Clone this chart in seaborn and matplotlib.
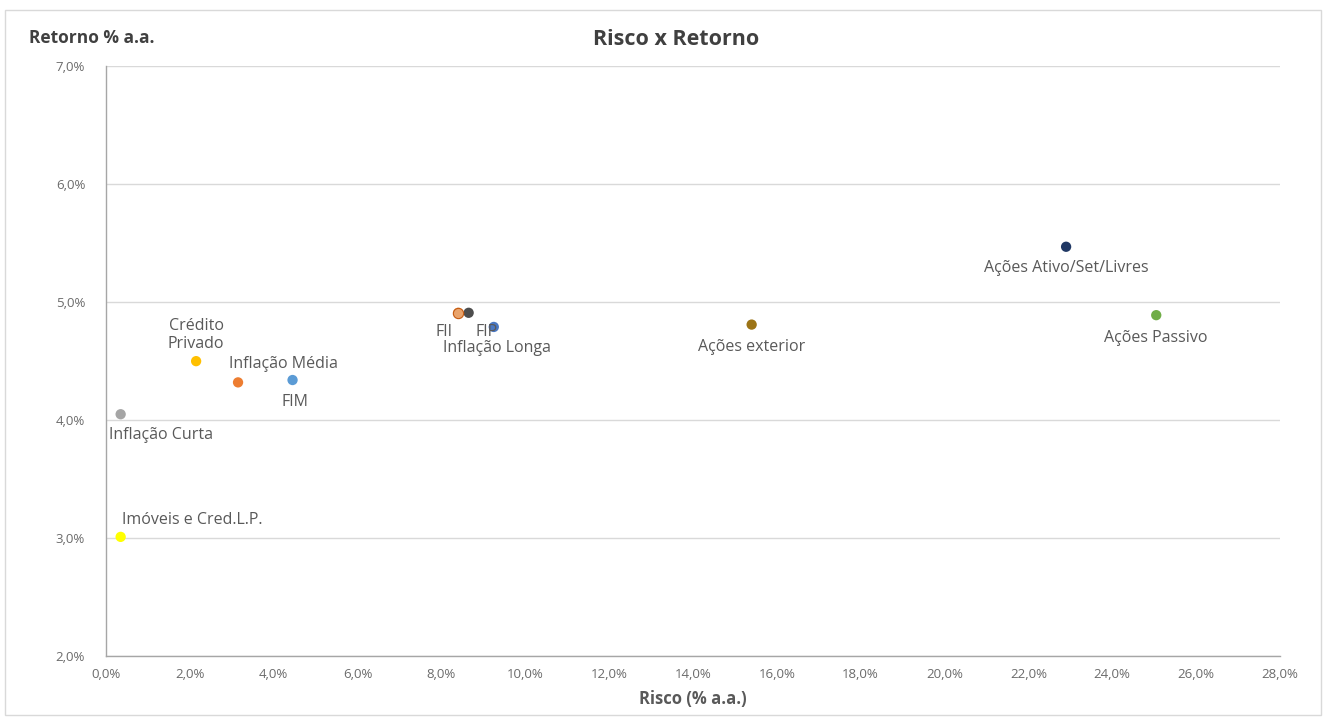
import matplotlib
matplotlib.use("Agg")
import matplotlib.pyplot as plt
from matplotlib.ticker import FuncFormatter, MultipleLocator
from matplotlib.patches import Rectangle
import seaborn as sns
import pandas as pd

# Asset classes with annual risk (volatility) and expected return, in %
categorias = [
    "Ações Ativo/Set/Livres", "Ações Passivo", "Ações exterior", "FII", "FIP",
    "Inflação Longa", "Crédito\nPrivado", "Inflação Média", "FIM",
    "Inflação Curta", "Imóveis e Cred.L.P.",
]
risco = [22.9, 25.05, 15.4, 8.4, 8.65, 9.25, 2.15, 3.15, 4.45, 0.35, 0.35]
retorno = [5.47, 4.89, 4.81, 4.91, 4.91, 4.79, 4.50, 4.32, 4.34, 4.05, 3.01]

cores = [
    "#203864", "#70ad47", "#9c7416", "#e9a36b", "#4d4d4d",
    "#4a78c2", "#ffc000", "#ed7d31", "#5b9bd5", "#a5a5a5", "#ffff00",
]
# label offsets in pixels relative to each point
desloc = [
    (0, -21), (0, -23), (0, -22), (-14, -19), (18, -19),
    (3, -21), (0, 26), (45, 18), (2, -22), (40, -21), (72, 17),
]

df = pd.DataFrame({"categoria": categorias, "risco": risco, "retorno": retorno})

sns.set_theme(style="white")
plt.rcParams["font.family"] = ["Open Sans", "DejaVu Sans"]

fig = plt.figure(figsize=(13.28, 7.2), dpi=100)
ax = fig.add_axes([0.0798, 0.0889, 0.884, 0.819])

sns.scatterplot(
    data=df, x="risco", y="retorno", hue="categoria",
    palette=dict(zip(categorias, cores)), s=55, edgecolor="none",
    legend=False, ax=ax, zorder=3,
)
# FII marker has a darker rim
i_fii = categorias.index("FII")
ax.scatter([risco[i_fii]], [retorno[i_fii]], s=55, facecolor=cores[i_fii],
           edgecolor="#c55a11", linewidth=0.8, zorder=4)

for nome, x, y, (dx, dy) in zip(categorias, risco, retorno, desloc):
    ax.annotate(nome, (x, y), xytext=(dx, dy), textcoords="offset pixels",
                ha="center", va="center", fontsize=11.5, color="#595959",
                linespacing=1.2, zorder=5)

ax.set_xlim(0, 28)
ax.set_ylim(2, 7)
ax.xaxis.set_major_locator(MultipleLocator(2))
ax.yaxis.set_major_locator(MultipleLocator(1))
fmt = FuncFormatter(lambda v, _: f"{v:.1f}%".replace(".", ","))
ax.xaxis.set_major_formatter(fmt)
ax.yaxis.set_major_formatter(fmt)
ax.tick_params(axis="both", labelsize=9.5, colors="#6b6b6b", length=0)
ax.tick_params(axis="x", pad=9)
ax.tick_params(axis="y", pad=15)

ax.grid(axis="y", color="#d9d9d9", linewidth=1)
ax.grid(axis="x", visible=False)
for side in ["top", "right"]:
    ax.spines[side].set_visible(False)
for side in ["left", "bottom"]:
    ax.spines[side].set_color("#a6a6a6")
    ax.spines[side].set_linewidth(1)

ax.set_xlabel("")
ax.set_ylabel("")
fig.text(0.522, 0.029, "Risco (% a.a.)", ha="center", va="center",
         fontsize=12, fontweight="bold", color="#595959")
fig.text(0.022, 0.947, "Retorno % a.a.", ha="left", va="center",
         fontsize=12.5, fontweight="bold", color="#404040")
fig.text(0.509, 0.945, "Risco x Retorno", ha="center", va="center",
         fontsize=15.5, fontweight="bold", color="#404040")

# thin border around the whole chart
fig.patches.append(Rectangle((0.004, 0.007), 0.991, 0.979, transform=fig.transFigure,
                             fill=False, edgecolor="#d9d9d9", linewidth=1))

fig.savefig("out.png", dpi=100, facecolor="white")
